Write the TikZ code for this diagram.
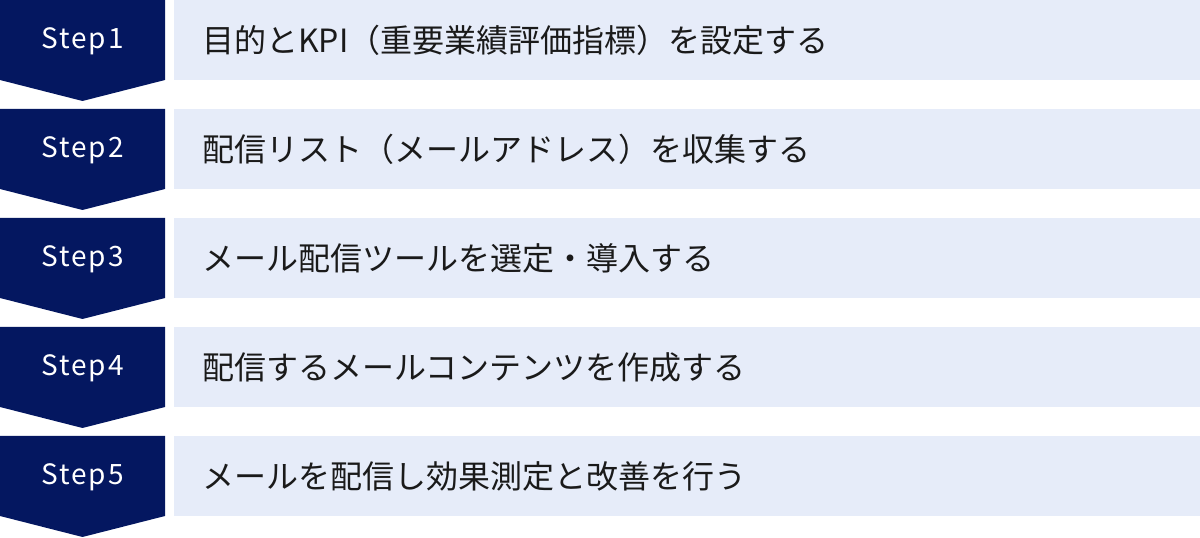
\documentclass[tikz,border=0pt]{standalone}
\usepackage{fontspec}
\setmainfont{Noto Sans CJK JP}
\newfontfamily\steplabelfont[LetterSpace=7]{Noto Sans CJK JP}
\definecolor{stepnavy}{HTML}{041760}
\definecolor{taskblue}{HTML}{E6ECF9}
\definecolor{tasktext}{HTML}{1A1A1A}
\tikzset{
    stepnumber/.style={text=white, font=\steplabelfont\fontsize{28}{33}\selectfont, inner sep=0pt},
    taskbox/.style={fill=taskblue, anchor=north west, minimum width=1026pt, minimum height=80pt,
        text width=998pt, inner xsep=28pt, inner ysep=0pt, align=left, text=tasktext,
        font=\fontsize{32}{38}\selectfont}
}
\begin{document}
\begin{tikzpicture}[x=1pt, y=1pt]
            \useasboundingbox (0, 0) rectangle (1200, 538);

            \foreach \i/\task in {1/目的とKPI（重要業績評価指標）を設定する,
                                  2/配信リスト（メールアドレス）を収集する,
                                  3/メール配信ツールを選定・導入する,
                                  4/配信するメールコンテンツを作成する,
                                  5/メールを配信し効果測定と改善を行う}
            {
                \pgfmathsetmacro{\top}{538 - 109*(\i - 1)}
                \fill[stepnavy] (0, \top) -- (165, \top) -- (165, \top - 80)
                    -- (82.5, \top - 101) -- (0, \top - 80) -- cycle;
                \node[stepnumber, anchor=base] (step\i) at (82.5, \top - 49) {Step\i};
                \node[taskbox] (task\i) at (174, \top) {\task};
            }
        \end{tikzpicture}
\end{document}
